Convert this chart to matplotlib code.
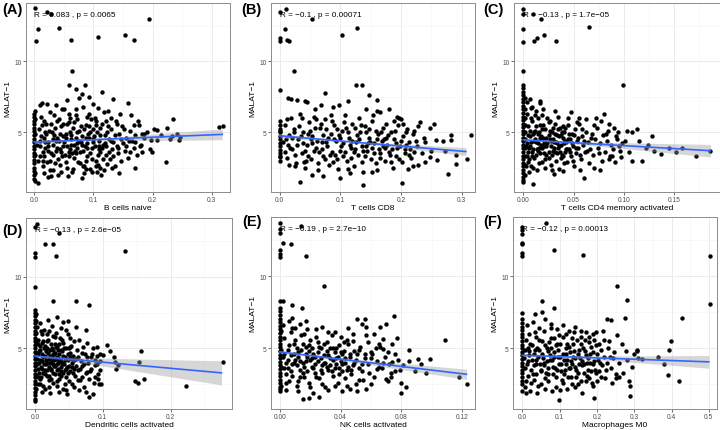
import numpy as np
import matplotlib
matplotlib.use("Agg")
import matplotlib.pyplot as plt

plt.rcParams['font.family'] = ['Liberation Sans', 'DejaVu Sans']

# ---------------- data ----------------
# (A) B cells naive
a_outliers = [(0.001, 13.76), (0.021, 13.45), (0.029, 13.36), (0.007, 12.3), (0.042, 12.35), (0.003, 11.4),
              (0.063, 11.46), (0.107, 11.7), (0.153, 11.85), (0.169, 11.5), (0.194, 12.98), (0.064, 9.34),
              (0.058, 8.33), (0.086, 8.33), (0.07, 8.05), (0.08, 7.7), (0.115, 7.82), (0.076, 7.4), (0.093, 7.46),
              (0.055, 7.25), (0.134, 7.35), (0.159, 7.07), (0.163, 6.24), (0.234, 5.94), (0.312, 5.38), (0.319, 5.42),
              (0.176, 5.77), (0.168, 5.47), (0.203, 5.19), (0.207, 5.14), (0.224, 5.31), (0.19, 5.0), (0.185, 4.84),
              (0.198, 4.48), (0.207, 4.44), (0.215, 4.79), (0.23, 4.53), (0.241, 4.84), (0.244, 4.48), (0.247, 4.67),
              (0.233, 4.72), (0.195, 3.83), (0.199, 3.62), (0.171, 2.49), (0.223, 2.89), (0.144, 2.14), (0.123, 2.72),
              (0.111, 2.49), (0.08, 1.78), (0.024, 1.83), (0.001, 1.55), (0.007, 1.38)]
a_column = [(0, 1.7), (0, 2.0), (0, 2.25), (0, 2.5), (0, 2.8), (0, 3.05), (0, 3.3), (0, 3.55), (0, 3.8), (0, 4.05),
            (0, 4.3), (0, 4.55), (0, 4.8), (0, 5.05), (0, 5.3), (0, 5.55), (0, 5.8), (0, 6.05), (0, 6.3), (0.001, 6.5),
            (0.002, 2.1), (0.002, 3.4), (0.002, 4.9), (0.002, 5.9)]
a_cloud = [(0.005, 4.1), (0.008, 5.2), (0.010, 3.3), (0.012, 6.1), (0.014, 2.6), (0.016, 4.6), (0.018, 3.9), (0.020, 5.6),
           (0.022, 2.9), (0.024, 4.3), (0.026, 6.4), (0.028, 3.5), (0.030, 5.0), (0.032, 2.3), (0.034, 4.8), (0.036, 3.7),
           (0.038, 5.8), (0.040, 3.1), (0.042, 4.4), (0.044, 2.7), (0.046, 5.4), (0.048, 4.0), (0.050, 6.6), (0.052, 3.4),
           (0.054, 4.9), (0.056, 2.5), (0.058, 5.7), (0.060, 3.8), (0.062, 4.5), (0.064, 2.2), (0.066, 5.3), (0.068, 3.2),
           (0.070, 6.2), (0.072, 4.2), (0.074, 2.9), (0.076, 5.1), (0.078, 3.6), (0.080, 4.7), (0.082, 6.8), (0.084, 2.6),
           (0.086, 4.0), (0.088, 5.5), (0.090, 3.3), (0.092, 4.6), (0.094, 2.4), (0.096, 5.9), (0.098, 3.9), (0.100, 4.3),
           (0.102, 6.0), (0.104, 3.0), (0.106, 5.0), (0.108, 2.7), (0.110, 4.4), (0.112, 3.6), (0.114, 5.6), (0.116, 4.1),
           (0.118, 2.3), (0.120, 4.8), (0.122, 3.4), (0.124, 6.5), (0.126, 4.5), (0.128, 3.1), (0.130, 5.2), (0.132, 3.8),
           (0.134, 4.3), (0.136, 2.6), (0.138, 5.8), (0.140, 4.0), (0.142, 3.5), (0.144, 4.9), (0.146, 3.0), (0.148, 5.4),
           (0.150, 4.2), (0.153, 3.7), (0.156, 4.6), (0.159, 3.2), (0.162, 5.1), (0.165, 4.4), (0.168, 3.9), (0.171, 4.8),
           (0.174, 3.4), (0.177, 5.5), (0.180, 4.1), (0.183, 3.6), (0.186, 4.6),
           (0.011, 4.7), (0.015, 3.6), (0.019, 5.0), (0.023, 4.0), (0.027, 3.0), (0.031, 4.5), (0.035, 5.3), (0.039, 3.9),
           (0.043, 4.9), (0.047, 3.3), (0.051, 4.3), (0.055, 5.6), (0.059, 3.6), (0.063, 4.8), (0.067, 4.1), (0.071, 3.5),
           (0.075, 4.4), (0.079, 5.4), (0.083, 3.7), (0.087, 4.6), (0.091, 4.9), (0.095, 3.5), (0.099, 5.2), (0.103, 4.0),
           (0.107, 3.4), (0.111, 5.3), (0.115, 3.9), (0.119, 4.2), (0.123, 5.0), (0.127, 3.6), (0.017, 2.1), (0.029, 1.9),
           (0.041, 2.0), (0.057, 1.9), (0.085, 2.1), (0.097, 2.2), (0.113, 2.0), (0.061, 6.0), (0.073, 5.9), (0.093, 6.3),
           (0.037, 6.9), (0.047, 6.6), (0.021, 7.0), (0.009, 6.9), (0.013, 7.05), (0.108, 6.7), (0.118, 6.4), (0.130, 6.0),
           (0.145, 6.3), (0.099, 7.0)]
a_core = [(0.006, 3.0), (0.009, 4.4), (0.013, 5.5), (0.017, 3.3), (0.020, 4.9), (0.024, 3.7), (0.028, 5.6), (0.032, 4.1),
          (0.035, 2.8), (0.038, 4.6), (0.042, 5.9), (0.045, 3.6), (0.049, 4.7), (0.053, 2.9), (0.056, 4.0), (0.060, 5.0),
          (0.064, 3.5), (0.067, 5.7), (0.070, 4.6), (0.073, 3.9), (0.077, 2.8), (0.080, 4.1), (0.084, 5.2), (0.087, 3.0),
          (0.090, 4.2), (0.094, 5.0), (0.097, 3.1), (0.101, 4.7), (0.105, 5.5), (0.109, 3.8), (0.112, 4.8), (0.117, 3.1),
          (0.121, 4.0), (0.125, 5.4), (0.129, 4.4), (0.133, 3.3), (0.137, 4.8), (0.141, 3.9), (0.147, 4.5), (0.152, 5.2),
          (0.010, 4.0), (0.014, 3.0), (0.019, 4.3), (0.025, 5.1), (0.031, 3.4), (0.037, 4.4), (0.043, 3.8), (0.049, 5.6),
          (0.053, 4.6), (0.058, 3.3), (0.063, 4.1), (0.069, 3.7), (0.073, 5.0), (0.079, 4.3), (0.083, 2.6), (0.089, 3.9),
          (0.093, 5.4), (0.099, 4.5), (0.104, 2.6), (0.110, 4.0), (0.016, 5.8), (0.033, 6.2), (0.058, 6.3), (0.071, 6.6),
          (0.089, 6.1), (0.104, 5.8), (0.122, 5.8), (0.026, 2.3), (0.046, 2.2), (0.066, 2.4), (0.088, 2.4), (0.106, 2.2),
          (0.131, 2.5), (0.140, 5.6), (0.155, 4.0), (0.160, 4.4), (0.162, 3.6), (0.170, 4.3), (0.178, 4.0), (0.182, 4.9)]
a_fit_x = [0.0, 0.318]
a_fit_y = [4.30, 4.84]
a_band_x = [0.0, 0.07, 0.15, 0.23, 0.318]
a_band_lo = [4.18, 4.36, 4.41, 4.42, 4.46]
a_band_hi = [4.42, 4.48, 4.69, 4.96, 5.22]

# (B) T cells CD8
b_outliers = [(0, 13.47), (0.01, 13.7), (0, 11.65), (0, 11.4), (0.012, 11.46), (0.016, 11.4), (0.009, 12.29),
              (0.053, 12.95), (0.103, 11.84), (0.128, 12.33), (0.023, 9.3), (0, 8.0), (0.126, 8.3), (0.135, 8.3),
              (0.074, 7.74), (0.013, 7.4), (0.019, 7.36), (0.113, 7.2), (0.147, 7.64), (0.161, 7.29), (0.028, 7.24),
              (0.042, 7.22), (0.034, 1.5), (0.099, 1.8), (0.137, 1.27), (0.202, 1.44), (0.278, 2.03), (0.29, 2.74),
              (0.308, 3.09), (0.315, 4.81), (0.29, 3.42), (0.283, 4.8), (0.283, 4.45), (0.272, 3.7), (0.259, 3.04),
              (0.255, 5.6), (0.247, 5.3), (0.232, 5.7), (0.228, 5.4), (0.258, 4.46), (0.27, 4.35), (0.248, 3.28),
              (0.238, 4.6), (0.24, 2.9), (0.22, 2.6), (0.213, 3.4), (0.208, 5.0), (0.194, 6.1), (0.196, 6.0),
              (0.18, 6.6), (0.16, 6.5), (0.166, 6.4), (0.143, 6.6), (0.097, 6.9), (0.088, 6.8), (0.068, 6.9),
              (0.058, 6.6), (0.045, 7.1)]
b_column = [(0, 3.0), (0, 3.25), (0, 3.5), (0, 3.75), (0, 4.0), (0, 4.25), (0, 4.5), (0, 4.75), (0, 5.0), (0, 5.25),
            (0, 5.5), (0, 5.75), (0.001, 3.3), (0.001, 5.1)]
b_cloud = [(0.006, 4.3), (0.009, 5.5), (0.012, 3.2), (0.015, 4.8), (0.018, 6.0), (0.021, 3.8), (0.024, 5.2), (0.027, 2.8),
           (0.030, 4.5), (0.033, 6.3), (0.036, 3.5), (0.039, 5.0), (0.042, 2.5), (0.045, 4.1), (0.048, 5.7), (0.051, 3.1),
           (0.054, 4.7), (0.057, 6.1), (0.060, 3.9), (0.063, 2.3), (0.066, 5.3), (0.069, 4.3), (0.072, 3.3), (0.075, 5.9),
           (0.078, 4.0), (0.081, 2.7), (0.084, 4.9), (0.087, 3.6), (0.090, 5.5), (0.093, 4.4), (0.096, 2.4), (0.099, 3.7),
           (0.102, 5.1), (0.105, 4.2), (0.108, 6.2), (0.111, 3.0), (0.114, 4.6), (0.117, 3.9), (0.120, 5.6), (0.123, 2.6),
           (0.126, 4.3), (0.129, 3.4), (0.132, 5.0), (0.135, 4.0), (0.138, 2.2), (0.141, 5.4), (0.144, 3.7), (0.147, 4.6),
           (0.150, 3.1), (0.153, 5.8), (0.156, 4.2), (0.159, 2.8), (0.162, 4.9), (0.165, 3.5), (0.168, 4.4), (0.171, 5.3),
           (0.174, 3.0), (0.177, 4.1), (0.180, 3.6), (0.183, 5.0), (0.186, 2.5), (0.189, 4.5), (0.192, 3.3), (0.195, 5.5),
           (0.198, 4.0), (0.201, 2.9), (0.204, 4.7), (0.207, 3.8), (0.210, 5.2), (0.213, 4.3), (0.216, 3.2), (0.219, 4.9),
           (0.222, 3.6), (0.225, 4.4), (0.228, 2.7),
           (0.008, 3.6), (0.014, 4.1), (0.020, 4.6), (0.026, 3.4), (0.032, 5.4), (0.038, 4.2), (0.044, 3.0), (0.050, 5.1),
           (0.056, 3.7), (0.062, 4.4), (0.068, 5.6), (0.074, 3.1), (0.080, 4.6), (0.086, 5.8), (0.092, 3.4), (0.098, 4.8),
           (0.104, 3.3), (0.110, 5.3), (0.116, 4.1), (0.122, 3.6), (0.128, 4.8), (0.134, 5.5), (0.140, 3.3), (0.146, 4.2),
           (0.152, 3.9), (0.158, 5.1), (0.164, 3.8), (0.170, 4.0), (0.176, 4.6), (0.182, 3.4), (0.188, 5.8), (0.194, 3.9),
           (0.200, 4.4), (0.206, 3.5), (0.212, 2.4), (0.054, 2.0), (0.071, 1.9), (0.116, 2.1), (0.152, 2.2), (0.025, 2.6)]
b_core = [(0.011, 4.5), (0.017, 3.9), (0.023, 5.0), (0.029, 4.1), (0.035, 4.7), (0.041, 3.7), (0.047, 4.9), (0.053, 4.2),
          (0.059, 5.3), (0.065, 3.6), (0.071, 4.8), (0.077, 4.3), (0.083, 3.4), (0.089, 4.5), (0.095, 5.2), (0.101, 4.0),
          (0.107, 3.6), (0.113, 5.0), (0.119, 4.4), (0.125, 3.8), (0.131, 4.5), (0.137, 3.7), (0.143, 5.0), (0.149, 4.3),
          (0.155, 3.5), (0.161, 4.5), (0.167, 5.0), (0.173, 3.9), (0.179, 4.8), (0.185, 3.8), (0.191, 4.2), (0.197, 3.1),
          (0.203, 5.6), (0.209, 4.1), (0.215, 3.8), (0.221, 5.1), (0.227, 4.0), (0.234, 3.5), (0.240, 4.3), (0.250, 3.7),
          (0.016, 2.7), (0.040, 2.9), (0.064, 2.8), (0.088, 2.9), (0.112, 2.4), (0.136, 2.9), (0.160, 2.3), (0.184, 2.9),
          (0.012, 5.9), (0.036, 6.0), (0.060, 5.9), (0.084, 6.2), (0.106, 5.7), (0.130, 6.0), (0.154, 6.2), (0.176, 5.6),
          (0.200, 5.9), (0.046, 3.3), (0.070, 3.8), (0.094, 3.1), (0.118, 3.2), (0.142, 4.0), (0.166, 3.2), (0.190, 5.1),
          (0.052, 4.5), (0.076, 5.2), (0.100, 4.6), (0.124, 5.3), (0.148, 5.2), (0.172, 4.5)]
b_fit_x = [0.0, 0.307]
b_fit_y = [4.74, 3.63]
b_band_x = [0.0, 0.11, 0.2, 0.307]
b_band_lo = [4.58, 4.29, 3.88, 3.35]
b_band_hi = [4.90, 4.39, 4.16, 3.91]

# (C) T cells CD4 memory activated
c_outliers = [(0, 13.7), (0, 13.34), (0.01, 13.3), (0.018, 12.97), (0, 12.29), (0.065, 12.38), (0.011, 11.4),
              (0.014, 11.64), (0.021, 11.85), (0.032, 11.45), (0, 11.36), (0, 9.3), (0.099, 8.34), (0.007, 7.31),
              (0.017, 7.2), (0.017, 7.05), (0.008, 6.73), (0.031, 6.5), (0.08, 6.26), (0.09, 5.26), (0.103, 5.09),
              (0.108, 4.98), (0.113, 5.21), (0.115, 4.39), (0.124, 4.09), (0.128, 4.74), (0.137, 3.48), (0.172, 3.29),
              (0.186, 3.69), (0.088, 3.34), (0.097, 3.22), (0.056, 2.34), (0.06, 1.8), (0.01, 1.36), (0, 1.45),
              (0.039, 2.27), (0.03, 2.06), (0.122, 3.9), (0.13, 3.7), (0.145, 3.85), (0.152, 3.6), (0.158, 3.9),
              (0.118, 3.0), (0.105, 3.6), (0.101, 4.4), (0.095, 4.0), (0.092, 4.7), (0.085, 5.6), (0.077, 5.8),
              (0.072, 6.0), (0.062, 5.9), (0.055, 6.0), (0.047, 6.4), (0.108, 2.95), (0.076, 2.3), (0.07, 2.5)]
c_column = [(0, 1.6), (0, 1.85), (0, 2.1), (0, 2.35), (0, 2.6), (0, 2.85), (0, 3.1), (0, 3.35), (0, 3.6), (0, 3.85),
            (0, 4.1), (0, 4.35), (0, 4.6), (0, 4.85), (0, 5.1), (0, 5.35), (0, 5.6), (0, 5.85), (0, 6.1), (0, 6.35),
            (0, 6.6), (0, 6.85), (0, 7.1), (0, 7.35), (0, 7.6), (0, 7.85), (0, 8.1), (0, 8.3), (0.002, 2.0),
            (0.002, 2.7), (0.002, 3.3), (0.002, 3.9), (0.002, 4.5), (0.002, 5.0), (0.002, 5.5), (0.002, 6.0),
            (0.002, 6.6), (0.002, 7.4)]
c_cloud = [(0.004, 4.2), (0.005, 5.4), (0.006, 3.1), (0.007, 4.7), (0.008, 2.6), (0.009, 5.8), (0.010, 3.8), (0.011, 4.4),
           (0.012, 5.1), (0.013, 3.4), (0.014, 2.3), (0.015, 4.9), (0.016, 3.9), (0.017, 5.5), (0.018, 4.1), (0.019, 2.9),
           (0.020, 4.6), (0.021, 3.5), (0.022, 5.2), (0.023, 4.0), (0.024, 6.0), (0.025, 3.2), (0.026, 4.5), (0.027, 2.7),
           (0.028, 5.0), (0.029, 3.7), (0.030, 4.3), (0.031, 5.6), (0.032, 3.0), (0.033, 4.8), (0.034, 3.9), (0.035, 2.4),
           (0.036, 5.3), (0.037, 4.1), (0.038, 3.4), (0.039, 4.6), (0.040, 5.0), (0.041, 3.6), (0.042, 4.3), (0.043, 2.9),
           (0.044, 5.5), (0.045, 3.8), (0.046, 4.5), (0.047, 3.3), (0.048, 4.9), (0.049, 4.0), (0.050, 2.6), (0.051, 5.2),
           (0.052, 3.5), (0.053, 4.4), (0.054, 3.9), (0.055, 5.6), (0.057, 3.1), (0.058, 4.7), (0.059, 4.1), (0.061, 3.6),
           (0.062, 5.0), (0.064, 4.3), (0.065, 2.8), (0.066, 3.8), (0.068, 4.9), (0.069, 3.4), (0.071, 4.5), (0.073, 5.3),
           (0.074, 3.9), (0.076, 4.2), (0.078, 3.0), (0.079, 4.8), (0.081, 3.6), (0.083, 4.4), (0.084, 5.1), (0.086, 3.3),
           (0.087, 4.1), (0.089, 3.8), (0.091, 2.9), (0.093, 4.5), (0.096, 3.7), (0.098, 4.2),
           (0.005, 3.6), (0.007, 4.0), (0.009, 3.3), (0.011, 5.0), (0.013, 4.3), (0.015, 3.7), (0.017, 4.6), (0.019, 5.2),
           (0.021, 4.2), (0.023, 3.4), (0.025, 4.8), (0.027, 4.0), (0.029, 5.3), (0.031, 3.6), (0.033, 4.2), (0.035, 4.7),
           (0.037, 3.2), (0.039, 5.4), (0.041, 4.4), (0.043, 3.8), (0.045, 4.9), (0.003, 2.6), (0.006, 2.2), (0.004, 6.3),
           (0.012, 6.2), (0.020, 6.6), (0.026, 5.8), (0.004, 7.1), (0.009, 6.8), (0.015, 6.0)]
c_core = [(0.003, 4.0), (0.004, 3.3), (0.005, 4.8), (0.006, 3.9), (0.007, 5.1), (0.008, 4.3), (0.009, 3.6), (0.010, 4.9),
          (0.011, 3.2), (0.012, 4.5), (0.013, 5.4), (0.014, 3.8), (0.015, 4.2), (0.016, 5.0), (0.017, 3.5), (0.018, 4.7),
          (0.019, 3.9), (0.020, 5.5), (0.021, 4.0), (0.022, 3.1), (0.023, 4.6), (0.024, 4.2), (0.025, 3.6), (0.026, 5.1),
          (0.027, 4.4), (0.028, 3.4), (0.029, 4.5), (0.030, 3.9), (0.031, 4.9), (0.032, 4.3), (0.033, 3.5), (0.034, 5.2),
          (0.035, 4.0), (0.036, 3.6), (0.037, 4.8), (0.038, 5.0), (0.039, 3.3), (0.040, 4.2), (0.041, 5.3), (0.042, 3.8),
          (0.044, 4.5), (0.046, 3.6), (0.048, 4.2), (0.050, 4.8), (0.052, 3.9), (0.054, 4.6), (0.056, 3.4), (0.058, 5.2),
          (0.060, 4.4), (0.063, 3.7), (0.005, 2.9), (0.008, 6.0), (0.010, 2.5), (0.013, 6.5), (0.016, 2.8), (0.019, 6.2),
          (0.022, 2.5), (0.025, 5.7), (0.028, 2.3), (0.034, 6.1), (0.040, 2.8), (0.044, 6.0), (0.049, 3.0), (0.053, 5.7),
          (0.067, 4.6), (0.070, 5.5), (0.075, 3.5), (0.082, 4.9), (0.085, 3.1), (0.094, 5.0)]
c_fit_x = [0.0, 0.186]
c_fit_y = [4.46, 3.69]
c_band_x = [0.0, 0.025, 0.08, 0.13, 0.186]
c_band_lo = [4.39, 4.30, 3.97, 3.63, 3.25]
c_band_hi = [4.53, 4.42, 4.29, 4.21, 4.13]

# (D) Dendritic cells activated
d_outliers = [(0, 13.49), (0.003, 13.67), (0.036, 13.02), (0.015, 12.26), (0.026, 12.3), (0, 11.63), (0, 11.4),
              (0.031, 11.44), (0.133, 11.79), (0, 9.3), (0.027, 8.3), (0.061, 8.3), (0.08, 8.02), (0.075, 6.28),
              (0.033, 7.21), (0.042, 6.86), (0.049, 6.93), (0.002, 7.44), (0.091, 5.07), (0.106, 5.23), (0.096, 4.65),
              (0.111, 4.81), (0.157, 4.81), (0.154, 4.07), (0.278, 4.07), (0.118, 4.07), (0.119, 3.6), (0.147, 2.72),
              (0.152, 2.56), (0.161, 2.86), (0.223, 2.4), (0.093, 2.84), (0.095, 2.49), (0.079, 1.63), (0.085, 1.86),
              (0, 1.51), (0, 1.35), (0.046, 2.09), (0.123, 3.84), (0.116, 4.42), (0.101, 4.53), (0.096, 3.49),
              (0.088, 3.84), (0.07, 3.02), (0.077, 3.37), (0.063, 2.79)]
d_column = [(0, 1.75), (0, 2.0), (0, 2.25), (0, 2.5), (0, 2.75), (0, 3.0), (0, 3.25), (0, 3.5), (0, 3.75), (0, 4.0),
            (0, 4.25), (0, 4.5), (0, 4.75), (0, 5.0), (0, 5.25), (0, 5.5), (0, 5.75), (0, 6.0), (0, 6.25), (0, 6.5),
            (0, 6.75), (0, 7.0), (0, 7.25), (0, 7.5), (0, 7.7), (0.002, 2.2), (0.002, 3.1), (0.002, 3.9),
            (0.002, 4.7), (0.002, 5.4), (0.002, 6.1), (0.002, 6.9)]
d_cloud = [(0.003, 4.3), (0.004, 5.6), (0.005, 3.0), (0.006, 4.8), (0.007, 2.5), (0.008, 5.2), (0.009, 3.7), (0.010, 6.0),
           (0.011, 4.1), (0.012, 3.3), (0.013, 5.0), (0.014, 2.2), (0.015, 4.5), (0.016, 3.9), (0.017, 5.5), (0.018, 3.1),
           (0.019, 4.7), (0.020, 2.8), (0.021, 6.2), (0.022, 4.0), (0.023, 3.5), (0.024, 5.3), (0.025, 4.4), (0.026, 2.6),
           (0.027, 4.9), (0.028, 3.8), (0.029, 5.8), (0.030, 3.2), (0.031, 4.3), (0.032, 2.4), (0.033, 5.1), (0.034, 3.6),
           (0.035, 4.6), (0.036, 2.9), (0.037, 5.7), (0.038, 4.1), (0.039, 3.4), (0.040, 4.8), (0.041, 2.2), (0.042, 5.4),
           (0.043, 3.9), (0.044, 4.4), (0.045, 3.0), (0.046, 5.0), (0.047, 3.7), (0.048, 6.0), (0.049, 4.2), (0.050, 2.7),
           (0.051, 4.7), (0.052, 3.4), (0.053, 5.2), (0.054, 4.0), (0.055, 2.5), (0.056, 4.5), (0.057, 3.6), (0.058, 5.5),
           (0.059, 3.1), (0.060, 4.3), (0.062, 4.9), (0.063, 3.5), (0.065, 5.6), (0.066, 2.8), (0.068, 4.1), (0.069, 3.8),
           (0.071, 5.1), (0.072, 2.3), (0.074, 4.6), (0.075, 3.3), (0.077, 5.4), (0.078, 4.0), (0.080, 2.9), (0.082, 4.4),
           (0.083, 3.6), (0.085, 5.0), (0.087, 2.6), (0.089, 4.2), (0.091, 3.9), (0.093, 3.2), (0.096, 4.1), (0.098, 2.5),
           (0.004, 3.6), (0.006, 4.0), (0.008, 2.9), (0.010, 4.6), (0.012, 5.5), (0.014, 3.5), (0.016, 4.2), (0.018, 5.0),
           (0.020, 3.7), (0.022, 4.5), (0.024, 2.9), (0.026, 3.9), (0.028, 4.6), (0.030, 5.3), (0.032, 3.9), (0.034, 4.9),
           (0.036, 4.1), (0.038, 3.1), (0.040, 5.6), (0.042, 4.0), (0.044, 3.5), (0.046, 4.3), (0.048, 3.3), (0.050, 5.0),
           (0.052, 4.4), (0.054, 3.7), (0.003, 6.5), (0.008, 6.8), (0.013, 6.3), (0.019, 7.0), (0.025, 6.6), (0.031, 6.1),
           (0.045, 6.3), (0.060, 6.5), (0.010, 2.0), (0.022, 1.9), (0.035, 2.0), (0.047, 1.8), (0.065, 2.1), (0.075, 2.0)]
d_core = [(0.003, 3.9), (0.004, 4.6), (0.005, 5.3), (0.006, 3.3), (0.007, 4.2), (0.008, 4.9), (0.009, 3.0), (0.010, 5.4),
          (0.011, 3.6), (0.012, 4.4), (0.013, 3.9), (0.014, 5.2), (0.015, 3.2), (0.016, 4.8), (0.017, 4.0), (0.018, 3.5),
          (0.019, 5.6), (0.020, 4.3), (0.021, 3.1), (0.022, 4.9), (0.023, 4.1), (0.024, 3.6), (0.025, 5.0), (0.026, 4.6),
          (0.027, 3.3), (0.028, 4.2), (0.029, 3.8), (0.030, 4.7), (0.031, 5.1), (0.032, 3.5), (0.033, 4.4), (0.034, 4.0),
          (0.035, 3.2), (0.036, 5.3), (0.037, 4.3), (0.038, 3.7), (0.039, 4.9), (0.040, 3.9), (0.041, 4.5), (0.042, 3.3),
          (0.043, 5.0), (0.044, 4.2), (0.046, 3.6), (0.048, 4.6), (0.050, 3.8), (0.052, 5.1), (0.054, 4.3), (0.056, 3.3),
          (0.058, 4.2), (0.061, 3.8), (0.005, 2.5), (0.009, 6.2), (0.012, 2.4), (0.017, 6.0), (0.021, 2.3), (0.027, 5.9),
          (0.033, 2.7), (0.039, 6.4), (0.044, 2.5), (0.051, 5.7), (0.057, 2.3), (0.064, 4.4), (0.067, 3.6), (0.070, 4.7),
          (0.073, 3.9), (0.076, 4.4), (0.081, 3.4), (0.084, 4.6), (0.088, 3.0), (0.092, 4.5)]
d_fit_x = [0.0, 0.275]
d_fit_y = [4.47, 3.30]
d_band_x = [0.0, 0.025, 0.1, 0.18, 0.275]
d_band_lo = [4.39, 4.29, 3.78, 3.18, 2.46]
d_band_hi = [4.55, 4.43, 4.32, 4.24, 4.14]

# (E) NK cells activated
e_outliers = [(0, 13.65), (0, 13.3), (0, 13.02), (0.002, 12.3), (0.007, 12.26), (0.014, 13.47), (0, 11.79),
              (0, 11.56), (0, 11.33), (0.017, 11.37), (0.029, 9.3), (0, 8.3), (0.002, 8.3), (0.008, 8.0),
              (0.0145, 7.77), (0.075, 7.26), (0.051, 7.02), (0.056, 7.02), (0.077, 5.74), (0.109, 5.56), (0.099, 4.28),
              (0.091, 4.28), (0.093, 3.88), (0.085, 4.86), (0.085, 4.12), (0.089, 3.42), (0.096, 3.3), (0.079, 3.47),
              (0.08, 2.6), (0.08, 1.91), (0.057, 2.14), (0.041, 2.02), (0.015, 1.44), (0.019, 1.56), (0, 2.14),
              (0.118, 3.0), (0.123, 2.53), (0.026, 1.6), (0.068, 4.93), (0.074, 4.05), (0.073, 3.3), (0.064, 3.53),
              (0.07, 2.84), (0.06, 2.49), (0.06, 4.7), (0.065, 5.28), (0.068, 5.63), (0.062, 5.98), (0.057, 6.44),
              (0.054, 6.67), (0.07, 6.67), (0.066, 6.44)]
e_column = [(0, 2.0), (0, 2.3), (0, 2.55), (0, 2.8), (0, 3.05), (0, 3.3), (0, 3.55), (0, 3.8), (0, 4.05), (0, 4.3),
            (0, 4.55), (0, 4.8), (0, 5.05), (0, 5.3), (0, 5.55), (0, 5.8), (0, 6.05), (0, 6.3), (0, 6.55), (0, 6.8),
            (0, 7.05), (0, 7.3), (0, 7.55), (0, 7.8), (0.001, 2.4), (0.001, 3.7), (0.001, 4.9), (0.001, 6.2)]
e_cloud = [(0.002, 4.4), (0.003, 5.7), (0.004, 3.2), (0.005, 4.9), (0.006, 2.7), (0.007, 6.1), (0.008, 3.9), (0.009, 5.3),
           (0.010, 4.2), (0.011, 2.4), (0.012, 4.7), (0.013, 3.5), (0.014, 5.9), (0.015, 4.0), (0.016, 3.0), (0.017, 5.1),
           (0.018, 4.4), (0.019, 2.6), (0.020, 5.6), (0.021, 3.7), (0.022, 4.6), (0.023, 3.3), (0.024, 6.3), (0.025, 4.1),
           (0.026, 2.9), (0.027, 5.0), (0.028, 3.8), (0.029, 4.5), (0.030, 2.3), (0.031, 5.4), (0.032, 3.5), (0.033, 4.3),
           (0.034, 5.9), (0.035, 3.1), (0.036, 4.7), (0.037, 3.9), (0.038, 2.6), (0.039, 5.2), (0.040, 4.1), (0.041, 3.4),
           (0.042, 4.8), (0.043, 2.9), (0.044, 5.6), (0.045, 3.7), (0.046, 4.4), (0.047, 3.2), (0.048, 6.0), (0.049, 4.0),
           (0.050, 2.5), (0.051, 4.6), (0.052, 3.6), (0.053, 5.1), (0.054, 3.9), (0.055, 2.8), (0.056, 4.3), (0.058, 5.4),
           (0.059, 3.3), (0.061, 4.6), (0.062, 3.0), (0.064, 4.1), (0.066, 5.1), (0.067, 3.6), (0.069, 4.4), (0.071, 2.7),
           (0.072, 3.9), (0.074, 5.3), (0.076, 3.4), (0.078, 4.2), (0.081, 3.8), (0.083, 2.3),
           (0.003, 3.6), (0.005, 4.2), (0.007, 3.4), (0.009, 4.6), (0.011, 5.0), (0.013, 4.1), (0.015, 3.3), (0.017, 4.6),
           (0.019, 5.2), (0.021, 4.3), (0.023, 3.9), (0.025, 5.4), (0.027, 3.5), (0.029, 4.0), (0.031, 4.8), (0.033, 3.8),
           (0.035, 5.0), (0.037, 4.3), (0.039, 3.6), (0.041, 4.6), (0.043, 4.0), (0.045, 5.3), (0.047, 3.5), (0.049, 4.8),
           (0.002, 6.6), (0.006, 6.9), (0.010, 6.4), (0.013, 6.7), (0.018, 6.3), (0.028, 6.5), (0.036, 6.1), (0.045, 6.4),
           (0.004, 2.1), (0.012, 2.0), (0.022, 1.9), (0.032, 2.1), (0.046, 2.2), (0.051, 2.0), (0.017, 6.9), (0.008, 7.1)]
e_core = [(0.003, 4.6), (0.004, 4.0), (0.005, 3.6), (0.006, 5.2), (0.007, 4.5), (0.008, 3.1), (0.009, 4.0), (0.010, 5.6),
          (0.011, 3.8), (0.012, 4.4), (0.013, 3.0), (0.014, 4.9), (0.015, 5.3), (0.016, 3.7), (0.017, 4.1), (0.018, 3.4),
          (0.019, 4.8), (0.020, 4.2), (0.021, 5.0), (0.022, 3.6), (0.023, 4.4), (0.024, 3.0), (0.025, 4.7), (0.026, 5.1),
          (0.027, 4.3), (0.028, 3.3), (0.029, 5.3), (0.030, 4.0), (0.031, 3.7), (0.032, 4.5), (0.033, 5.0), (0.034, 3.4),
          (0.035, 4.2), (0.036, 3.6), (0.037, 5.0), (0.038, 4.4), (0.039, 3.2), (0.040, 4.7), (0.041, 3.9), (0.042, 5.4),
          (0.043, 4.3), (0.044, 3.5), (0.046, 4.6), (0.048, 3.8), (0.050, 4.2), (0.052, 4.9), (0.054, 3.4), (0.056, 4.6),
          (0.058, 3.9), (0.060, 4.3), (0.004, 2.6), (0.008, 6.4), (0.012, 2.7), (0.016, 6.0), (0.020, 2.3), (0.024, 5.8),
          (0.028, 2.5), (0.032, 6.1), (0.036, 2.4), (0.040, 5.8), (0.044, 2.4), (0.048, 5.5), (0.052, 2.8), (0.057, 5.9),
          (0.063, 5.0), (0.065, 3.7), (0.068, 4.0), (0.071, 4.7), (0.073, 3.0), (0.076, 4.6)]
e_fit_x = [0.0, 0.123]
e_fit_y = [4.74, 3.19]
e_band_x = [0.0, 0.02, 0.06, 0.09, 0.123]
e_band_lo = [4.65, 4.43, 3.83, 3.36, 2.84]
e_band_hi = [4.83, 4.55, 4.13, 3.86, 3.54]

# (F) Macrophages M0
f_outliers = [(0, 13.42), (0, 13.2), (0, 12.95), (0, 12.3), (0, 12.2), (0, 11.6), (0, 11.4), (0.063, 13.65),
              (0.085, 11.84), (0.162, 11.44), (0.503, 11.37), (0.253, 9.3), (0.282, 8.35), (0.503, 8.05),
              (0.053, 8.3), (0.086, 7.77), (0.276, 7.07), (0.226, 7.0), (0.237, 6.93), (0.427, 7.07), (0, 7.44),
              (0.399, 5.51), (0.392, 4.86), (0.363, 4.42), (0.381, 3.88), (0.39, 3.14), (0.421, 2.72), (0.287, 2.72),
              (0.289, 2.37), (0.29, 1.67), (0.192, 1.56), (0.098, 1.4), (0.159, 1.91), (0, 2.02), (0.01, 1.9),
              (0.307, 4.9), (0.307, 4.77), (0.277, 4.77), (0.266, 5.28), (0.253, 5.9), (0.3, 4.6), (0.31, 4.3),
              (0.28, 4.2), (0.295, 3.7), (0.32, 4.25), (0.27, 3.3), (0.26, 3.0), (0.25, 2.9), (0.24, 2.6),
              (0.225, 3.5), (0.235, 4.4), (0.22, 5.6), (0.215, 6.2), (0.205, 5.3), (0.23, 5.0), (0.21, 3.0),
              (0.2, 2.7), (0.18, 2.9), (0.17, 6.1), (0.19, 6.0), (0.26, 4.0), (0.245, 4.7)]
f_column = [(0, 2.5), (0, 2.75), (0, 3.0), (0, 3.25), (0, 3.5), (0, 3.75), (0, 4.0), (0, 4.25), (0, 4.5), (0, 4.75),
            (0, 5.0), (0, 5.25), (0, 5.5), (0, 5.75), (0, 6.0), (0, 6.25), (0, 6.5), (0, 6.75), (0, 7.0)]
f_cloud = [(0.005, 4.3), (0.010, 5.6), (0.014, 3.1), (0.018, 4.8), (0.022, 2.6), (0.026, 5.2), (0.030, 3.8), (0.034, 6.1),
           (0.038, 4.2), (0.042, 2.4), (0.046, 4.9), (0.050, 3.4), (0.054, 5.5), (0.058, 4.0), (0.062, 2.9), (0.066, 5.0),
           (0.070, 3.6), (0.074, 4.5), (0.078, 6.4), (0.082, 3.2), (0.086, 4.7), (0.090, 2.3), (0.094, 5.3), (0.098, 3.9),
           (0.102, 4.4), (0.106, 2.8), (0.110, 5.8), (0.114, 3.5), (0.118, 4.6), (0.122, 3.0), (0.126, 5.1), (0.130, 4.1),
           (0.134, 2.5), (0.138, 4.8), (0.142, 3.7), (0.146, 5.6), (0.150, 3.3), (0.154, 4.3), (0.158, 2.7), (0.162, 5.0),
           (0.166, 3.9), (0.170, 4.5), (0.174, 3.1), (0.178, 5.4), (0.182, 4.0), (0.186, 2.6), (0.190, 4.7), (0.194, 3.5),
           (0.198, 5.2), (0.202, 4.2), (0.206, 3.4), (0.210, 4.9), (0.214, 3.8), (0.218, 4.4), (0.222, 2.9), (0.228, 4.0),
           (0.232, 5.5), (0.238, 3.6), (0.244, 4.3), (0.250, 3.2),
           (0.008, 3.6), (0.016, 4.1), (0.024, 3.5), (0.032, 4.6), (0.040, 5.0), (0.048, 3.9), (0.056, 4.3), (0.064, 3.3),
           (0.072, 5.4), (0.080, 4.2), (0.088, 3.6), (0.096, 4.9), (0.104, 3.4), (0.112, 4.2), (0.120, 5.3), (0.128, 3.6),
           (0.136, 4.4), (0.144, 3.0), (0.152, 4.9), (0.160, 3.8), (0.168, 5.6), (0.176, 4.3), (0.184, 3.4), (0.192, 4.1),
           (0.012, 6.6), (0.028, 6.8), (0.044, 6.4), (0.060, 7.0), (0.076, 6.7), (0.092, 6.3), (0.108, 6.6), (0.124, 6.2),
           (0.140, 6.5), (0.156, 6.2), (0.020, 2.0), (0.040, 1.9), (0.060, 2.2), (0.080, 2.0), (0.100, 2.1), (0.120, 2.2),
           (0.140, 2.3), (0.052, 7.5), (0.035, 7.4), (0.006, 2.3), (0.015, 5.0), (0.036, 3.2), (0.068, 4.8), (0.084, 5.7),
           (0.116, 3.9), (0.132, 5.7)]
f_core = [(0.007, 4.9), (0.012, 3.9), (0.017, 4.5), (0.021, 5.3), (0.025, 4.2), (0.029, 3.2), (0.033, 4.9), (0.037, 3.9),
          (0.041, 4.4), (0.045, 5.6), (0.049, 3.5), (0.053, 4.6), (0.057, 3.8), (0.061, 5.2), (0.065, 4.1), (0.069, 3.2),
          (0.073, 4.2), (0.077, 5.0), (0.081, 3.7), (0.085, 4.4), (0.089, 5.2), (0.093, 3.5), (0.097, 4.4), (0.101, 5.3),
          (0.105, 3.9), (0.109, 4.6), (0.113, 3.2), (0.117, 5.0), (0.121, 4.2), (0.125, 3.6), (0.129, 4.7), (0.133, 3.9),
          (0.137, 5.3), (0.141, 4.3), (0.145, 3.5), (0.149, 4.6), (0.153, 3.9), (0.157, 5.3), (0.161, 4.1), (0.165, 3.3),
          (0.169, 4.8), (0.173, 4.0), (0.177, 3.5), (0.181, 4.6), (0.185, 5.1), (0.189, 3.9), (0.193, 5.6), (0.197, 3.3),
          (0.201, 4.6), (0.207, 4.0), (0.010, 2.7), (0.030, 2.8), (0.050, 2.5), (0.070, 2.7), (0.090, 3.0), (0.110, 2.6),
          (0.130, 3.0), (0.150, 2.5), (0.170, 2.7), (0.190, 2.4), (0.018, 6.0), (0.038, 5.8), (0.058, 6.2), (0.078, 5.7),
          (0.098, 5.9), (0.118, 6.0), (0.138, 6.1), (0.158, 5.8), (0.178, 5.8), (0.198, 6.1)]
f_fit_x = [0.0, 0.5]
f_fit_y = [4.51, 4.05]
f_band_x = [0.0, 0.08, 0.2, 0.35, 0.5]
f_band_lo = [4.43, 4.38, 4.20, 3.91, 3.61]
f_band_hi = [4.59, 4.50, 4.46, 4.47, 4.49]

panel_tags = ["(A)", "(B)", "(C)", "(D)", "(E)", "(F)"]
x_titles = ["B cells naive", "T cells CD8", "T cells CD4 memory activated",
            "Dendritic cells activated", "NK cells activated", "Macrophages M0"]
stat_texts = ["R = 0.083 , p = 0.0065", "R = \u22120.1 , p = 0.00071", "R = \u22120.13 , p = 1.7e\u221205",
              "R = \u22120.13 , p = 2.6e\u221205", "R = \u22120.19 , p = 2.7e\u221210", "R = \u22120.12 , p = 0.00013"]
x_ticks = [[0.0, 0.1, 0.2, 0.3], [0.0, 0.1, 0.2, 0.3], [0.0, 0.05, 0.10, 0.15],
           [0.0, 0.1, 0.2], [0.0, 0.04, 0.08, 0.12], [0.0, 0.1, 0.2, 0.3, 0.4, 0.5]]
x_tick_labels = [["0.0", "0.1", "0.2", "0.3"], ["0.0", "0.1", "0.2", "0.3"], ["0.00", "0.05", "0.10", "0.15"],
                 ["0.0", "0.1", "0.2"], ["0.00", "0.04", "0.08", "0.12"], ["0.0", "0.1", "0.2", "0.3", "0.4", "0.5"]]
x_minor = [[0.05, 0.15, 0.25], [0.05, 0.15, 0.25], [0.025, 0.075, 0.125, 0.175],
           [0.05, 0.15, 0.25], [0.02, 0.06, 0.10], [0.05, 0.15, 0.25, 0.35, 0.45]]
x_limits = [(-0.0139, 0.331), (-0.0143, 0.322), (-0.0093, 0.195),
            (-0.0133, 0.2906), (-0.0059, 0.1286), (-0.025, 0.522)]

# ---------------- layout (pixel boxes: left, top, right, bottom) ----------------
W, H = 720, 431
boxes = [(26, 4, 230, 193), (271, 4, 475, 193), (514, 4, 719.5, 193),
         (26, 219, 232, 410), (271, 218, 475, 410), (513, 218, 717, 410)]
tag_pos = [(2, 10), (241, 10), (483, 10), (2, 231), (242, 222), (483, 222)]

points = [a_outliers + a_column + a_cloud + a_core, b_outliers + b_column + b_cloud + b_core,
          c_outliers + c_column + c_cloud + c_core, d_outliers + d_column + d_cloud + d_core,
          e_outliers + e_column + e_cloud + e_core, f_outliers + f_column + f_cloud + f_core]
fits = [(a_fit_x, a_fit_y, a_band_x, a_band_lo, a_band_hi), (b_fit_x, b_fit_y, b_band_x, b_band_lo, b_band_hi),
        (c_fit_x, c_fit_y, c_band_x, c_band_lo, c_band_hi), (d_fit_x, d_fit_y, d_band_x, d_band_lo, d_band_hi),
        (e_fit_x, e_fit_y, e_band_x, e_band_lo, e_band_hi), (f_fit_x, f_fit_y, f_band_x, f_band_lo, f_band_hi)]

fig = plt.figure(figsize=(W / 100, H / 100), dpi=100)

for i in range(6):
    l, t, r, b = boxes[i]
    ax = fig.add_axes([l / W, 1 - b / H, (r - l) / W, (b - t) / H])
    pts = np.array(points[i])
    ax.scatter(pts[:, 0], pts[:, 1], s=10, c="black", linewidths=0, zorder=2)

    fx, fy, bx, blo, bhi = fits[i]
    ax.fill_between(bx, blo, bhi, color="#999999", alpha=0.4, linewidth=0, zorder=3)
    ax.plot(fx, fy, color="#3366FF", linewidth=1.2, zorder=4)

    ax.set_xlim(*x_limits[i])
    ax.set_ylim(0.78, 14.1)
    ax.set_xticks(x_ticks[i])
    ax.set_xticklabels(x_tick_labels[i])
    ax.set_xticks(x_minor[i], minor=True)
    ax.set_yticks([5, 10])
    ax.set_yticks([2.5, 7.5, 12.5], minor=True)
    ax.grid(True, which="major", color="#EBEBEB", linewidth=0.7, zorder=0)
    ax.grid(True, which="minor", color="#F3F3F3", linewidth=0.4, zorder=0)
    ax.set_axisbelow(True)
    ax.tick_params(which="major", length=2, width=0.5, color="#333333", labelsize=4.8,
                   labelcolor="#4D4D4D", pad=1.2)
    ax.tick_params(which="minor", length=0)
    for s in ax.spines.values():
        s.set_color("#8c8c8c")
        s.set_linewidth(0.7)

    ax.set_xlabel(x_titles[i], fontsize=6, labelpad=0.5)
    ax.set_ylabel("MALAT\u22121", fontsize=6, labelpad=2)
    ax.text(0.0, 13.3, stat_texts[i], fontsize=5.9, ha="left", va="center", zorder=5)

    tx, ty = tag_pos[i]
    fig.text(tx / W, 1 - ty / H, panel_tags[i], fontsize=10.5, fontweight="bold", ha="left", va="center")

fig.savefig("out.png", dpi=100)
plt.close()
